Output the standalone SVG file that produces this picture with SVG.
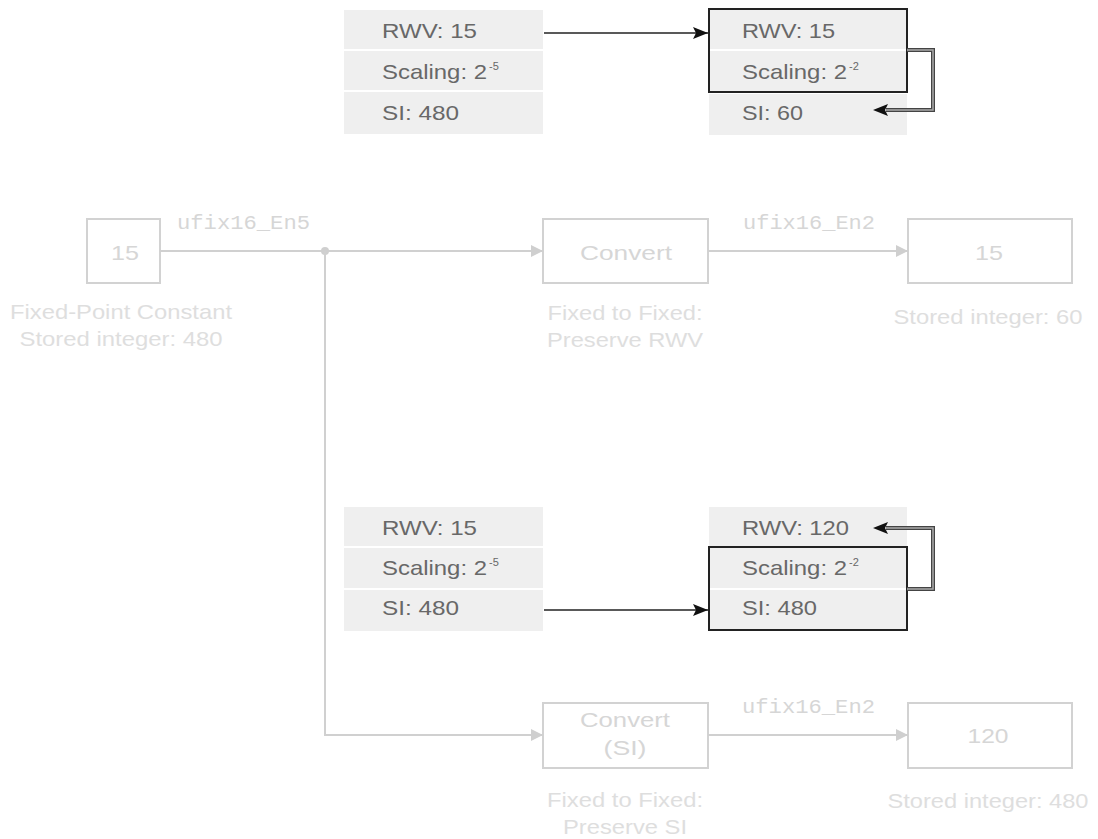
<svg xmlns="http://www.w3.org/2000/svg" width="1098" height="839" viewBox="0 0 1098 839">
<style>
.row{fill:#efefef}
.tt{font-family:"Liberation Sans",Arial,sans-serif;font-size:21px;fill:#686868}
.sup{font-size:11px}
.blk{fill:none;stroke:#d2d2d2;stroke-width:2}
.bt{font-family:"Liberation Sans",Arial,sans-serif;font-size:21px;fill:#d6d6d6;text-anchor:middle}
.lb{font-family:"Liberation Sans",Arial,sans-serif;font-size:21px;fill:#dedede;text-anchor:middle}
.sig{font-family:"Liberation Mono","Courier New",monospace;font-size:20px;fill:#d6d6d6}
.wire{fill:none;stroke:#d0d0d0;stroke-width:2}
.barrow{fill:none;stroke:#222;stroke-width:1.5}
.fbo{fill:none;stroke:#444;stroke-width:4}
.fbi{fill:none;stroke:#aaa;stroke-width:1.5}
.frame{fill:none;stroke:#222;stroke-width:2}
</style>
<defs>
<marker id="ah" markerUnits="userSpaceOnUse" markerWidth="16" markerHeight="12" refX="15" refY="6" orient="auto">
<path d="M0,0 L15,6 L0,12 L3,6 Z" fill="#111"/>
</marker>
<marker id="gh" markerUnits="userSpaceOnUse" markerWidth="14" markerHeight="12" refX="12" refY="6" orient="auto">
<path d="M0,0 L12,6 L0,12 Z" fill="#cfcfcf"/>
</marker>
</defs>

<g id="table-top-left">
<rect class="row" x="344" y="10" width="199" height="39"/>
<rect class="row" x="344" y="51" width="199" height="39"/>
<rect class="row" x="344" y="92" width="199" height="42"/>
<text class="tt" x="382" y="38" textLength="95" lengthAdjust="spacingAndGlyphs">RWV: 15</text>
<text class="tt" x="382" y="79"><tspan textLength="105" lengthAdjust="spacingAndGlyphs">Scaling: 2</tspan><tspan class="sup" x="489" y="70">-5</tspan></text>
<text class="tt" x="382" y="120" textLength="77" lengthAdjust="spacingAndGlyphs">SI: 480</text>
</g>

<g id="table-top-right">
<rect class="row" x="709" y="10" width="198" height="39"/>
<rect class="row" x="709" y="51" width="198" height="41"/>
<rect class="row" x="709" y="94" width="198" height="41"/>
<rect class="frame" x="709" y="9" width="198" height="83"/>
<text class="tt" x="742" y="38" textLength="93" lengthAdjust="spacingAndGlyphs">RWV: 15</text>
<text class="tt" x="742" y="79"><tspan textLength="105" lengthAdjust="spacingAndGlyphs">Scaling: 2</tspan><tspan class="sup" x="849" y="70">-2</tspan></text>
<text class="tt" x="742" y="120" textLength="61" lengthAdjust="spacingAndGlyphs">SI: 60</text>
</g>

<g id="table-bottom-left">
<rect class="row" x="344" y="507" width="199" height="39"/>
<rect class="row" x="344" y="548" width="199" height="40"/>
<rect class="row" x="344" y="590" width="199" height="41"/>
<text class="tt" x="382" y="535" textLength="95" lengthAdjust="spacingAndGlyphs">RWV: 15</text>
<text class="tt" x="382" y="575"><tspan textLength="105" lengthAdjust="spacingAndGlyphs">Scaling: 2</tspan><tspan class="sup" x="489" y="566">-5</tspan></text>
<text class="tt" x="382" y="615" textLength="77" lengthAdjust="spacingAndGlyphs">SI: 480</text>
</g>

<g id="table-bottom-right">
<rect class="row" x="709" y="507" width="198" height="39"/>
<rect class="row" x="709" y="548" width="198" height="40"/>
<rect class="row" x="709" y="590" width="198" height="40"/>
<rect class="frame" x="709" y="547" width="198" height="83"/>
<text class="tt" x="742" y="535" textLength="107" lengthAdjust="spacingAndGlyphs">RWV: 120</text>
<text class="tt" x="742" y="575"><tspan textLength="105" lengthAdjust="spacingAndGlyphs">Scaling: 2</tspan><tspan class="sup" x="849" y="566">-2</tspan></text>
<text class="tt" x="742" y="615" textLength="75" lengthAdjust="spacingAndGlyphs">SI: 480</text>
</g>

<g id="const-block">
<rect class="blk" x="87" y="219" width="73" height="64"/>
<text class="bt" x="125" y="260" textLength="28" lengthAdjust="spacingAndGlyphs">15</text>
<text class="lb" x="121" y="319" textLength="222" lengthAdjust="spacingAndGlyphs">Fixed-Point Constant</text>
<text class="lb" x="121" y="346" textLength="203" lengthAdjust="spacingAndGlyphs">Stored integer: 480</text>
</g>

<g id="convert-rwv">
<rect class="blk" x="543" y="219" width="165" height="64"/>
<text class="bt" x="626" y="260" textLength="92" lengthAdjust="spacingAndGlyphs">Convert</text>
<text class="lb" x="625" y="320" textLength="155" lengthAdjust="spacingAndGlyphs">Fixed to Fixed:</text>
<text class="lb" x="625" y="347" textLength="156" lengthAdjust="spacingAndGlyphs">Preserve RWV</text>
</g>

<g id="display-top">
<rect class="blk" x="908" y="219" width="164" height="64"/>
<text class="bt" x="989" y="260" textLength="28" lengthAdjust="spacingAndGlyphs">15</text>
<text class="lb" x="988" y="324" textLength="189" lengthAdjust="spacingAndGlyphs">Stored integer: 60</text>
</g>

<g id="convert-si">
<rect class="blk" x="543" y="703" width="165" height="65"/>
<text class="bt" x="625" y="727" textLength="90" lengthAdjust="spacingAndGlyphs">Convert</text>
<text class="bt" x="625" y="755" textLength="43" lengthAdjust="spacingAndGlyphs">(SI)</text>
<text class="lb" x="625" y="807" textLength="156" lengthAdjust="spacingAndGlyphs">Fixed to Fixed:</text>
<text class="lb" x="625" y="834" textLength="124" lengthAdjust="spacingAndGlyphs">Preserve SI</text>
</g>

<g id="display-bottom">
<rect class="blk" x="908" y="703" width="164" height="65"/>
<text class="bt" x="988" y="743" textLength="41" lengthAdjust="spacingAndGlyphs">120</text>
<text class="lb" x="988" y="808" textLength="201" lengthAdjust="spacingAndGlyphs">Stored integer: 480</text>
</g>

<g id="connectors">
<path class="wire" d="M160,251 H543" marker-end="url(#gh)"/>
<circle cx="325" cy="251" r="4" fill="#cfcfcf"/>
<path class="wire" d="M325,251 V735 H543" marker-end="url(#gh)"/>
<path class="wire" d="M708,251 H908" marker-end="url(#gh)"/>
<path class="wire" d="M708,735 H908" marker-end="url(#gh)"/>
<text class="sig" x="177" y="229" textLength="133" lengthAdjust="spacingAndGlyphs">ufix16_En5</text>
<text class="sig" x="743" y="229" textLength="132" lengthAdjust="spacingAndGlyphs">ufix16_En2</text>
<text class="sig" x="742" y="713" textLength="133" lengthAdjust="spacingAndGlyphs">ufix16_En2</text>

<path class="barrow" d="M544,33 H708" marker-end="url(#ah)"/>
<path class="barrow" d="M544,610 H708" marker-end="url(#ah)"/>

<path class="fbo" d="M907,50 H933 V110 H886"/>
<path class="fbi" d="M907,50 H933 V110 H886"/>
<path d="M873,110 L888,104 L885,110 L888,116 Z" fill="#111"/>

<path class="fbo" d="M907,589 H933 V528 H886"/>
<path class="fbi" d="M907,589 H933 V528 H886"/>
<path d="M873,528 L888,522 L885,528 L888,534 Z" fill="#111"/>
</g>
</svg>
